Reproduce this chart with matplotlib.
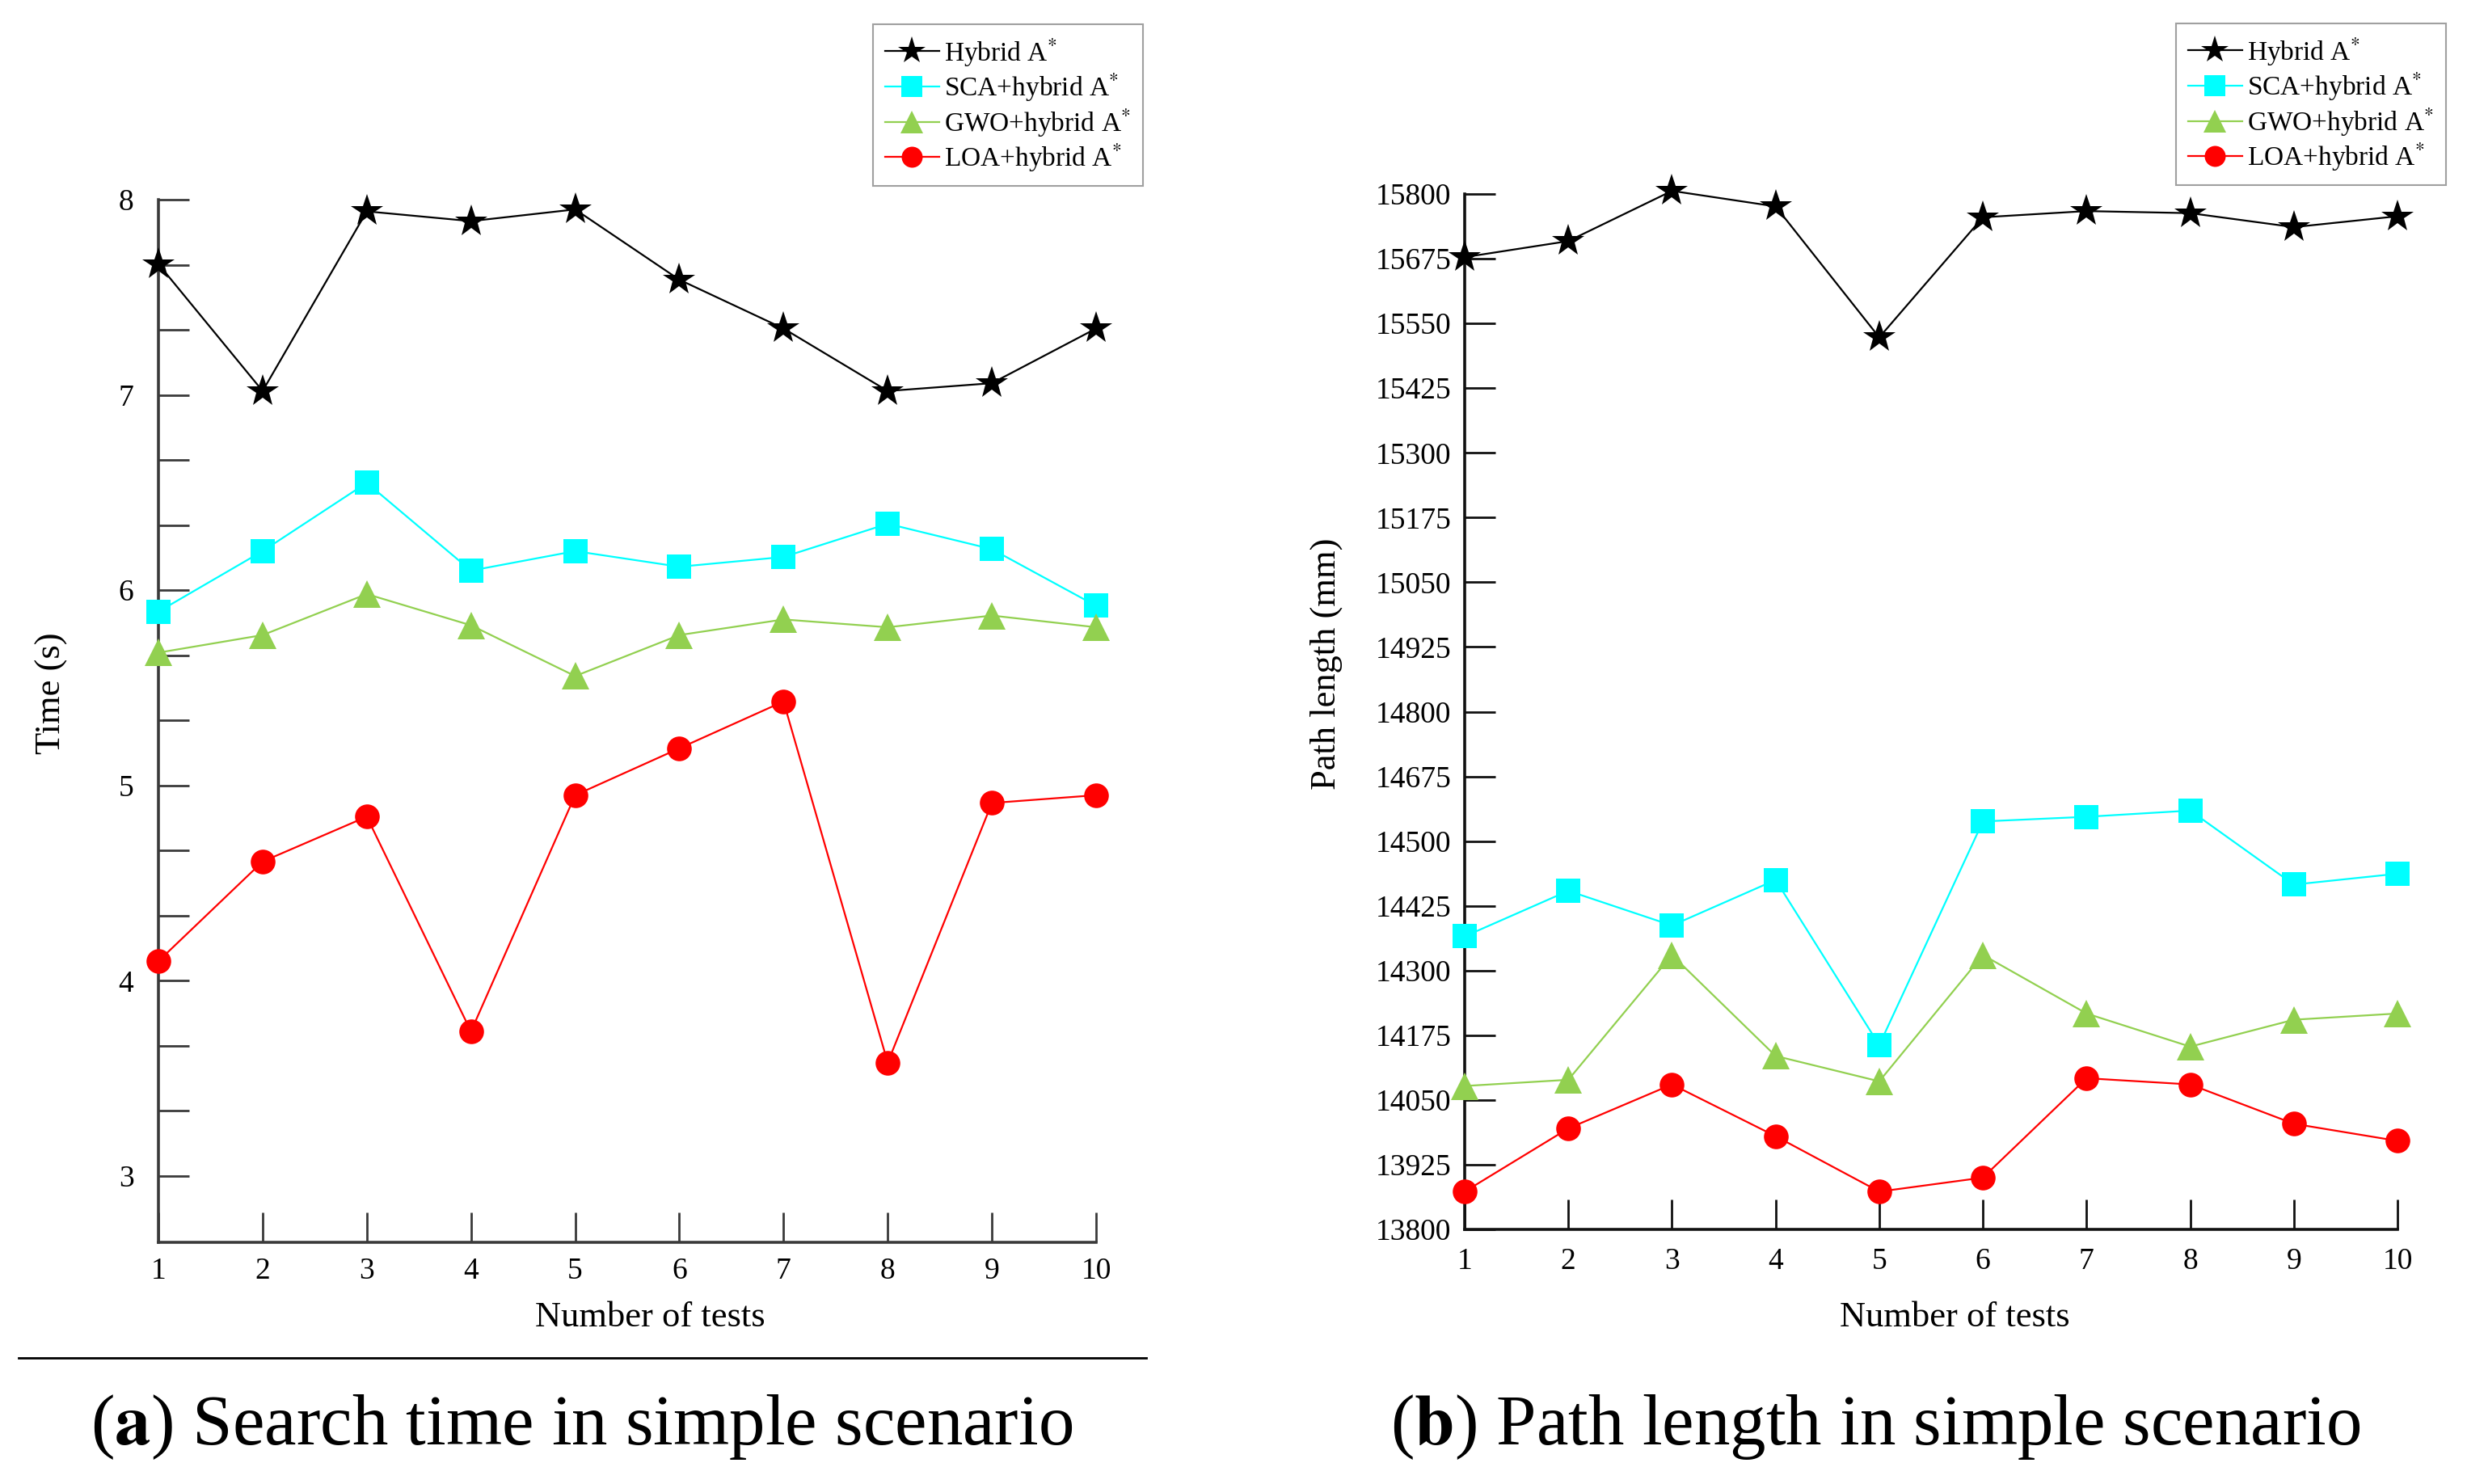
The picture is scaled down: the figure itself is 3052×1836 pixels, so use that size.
import matplotlib.pyplot as plt
from matplotlib.lines import Line2D
from matplotlib.ticker import FixedLocator, FixedFormatter

plt.rcParams['font.family'] = ['Liberation Serif', 'DejaVu Serif']
plt.rcParams['mathtext.fontset'] = 'stix'

tests = list(range(1, 11))
labels = ['Hybrid A$^{*}$', 'SCA+hybrid A$^{*}$', 'GWO+hybrid A$^{*}$', 'LOA+hybrid A$^{*}$']

# (a) search time, s
time_hybrid = [7.67, 7.02, 7.94, 7.89, 7.95, 7.59, 7.34, 7.02, 7.06, 7.34]
time_sca = [5.89, 6.20, 6.55, 6.10, 6.20, 6.12, 6.17, 6.34, 6.21, 5.92]
time_gwo = [5.68, 5.77, 5.98, 5.82, 5.56, 5.77, 5.85, 5.81, 5.87, 5.81]
time_loa = [4.10, 4.61, 4.84, 3.74, 4.95, 5.19, 5.43, 3.58, 4.91, 4.95]

# (b) path length, mm
len_hybrid = [15678, 15709, 15806, 15776, 15523, 15755, 15767, 15763, 15736, 15757]
len_sca = [14366, 14454, 14387, 14475, 14156, 14588, 14597, 14609, 14466, 14487]
len_gwo = [14077, 14089, 14330, 14135, 14086, 14330, 14217, 14153, 14205, 14217]
len_loa = [13873, 13995, 14080, 13980, 13873, 13900, 14092, 14080, 14004, 13971]

# tick labels exactly as printed in the figure
len_ticks = [13800 + 125 * k for k in range(17)]
len_tick_labels = ['13800', '13925', '14050', '14175', '14300', '14425', '14500',
                   '14675', '14800', '14925', '15050', '15175', '15300', '15425',
                   '15550', '15675', '15800']
time_major = [3, 4, 5, 6, 7, 8]
time_minor = [t + d for t in range(3, 8) for d in (1 / 3, 2 / 3)]

colors = ['black', '#00FFFF', '#92D050', '#FF0000']
markers = ['*', 's', '^', 'o']
msizes = [30, 22, 24, 22]

W, H = 3052, 1836


def fx(px):
    return px / W


def fy(py):
    return 1 - py / H


def draw(ax, series, spine_color, xpad, ypad):
    for vals, c, m, ms, lab in zip(series, colors, markers, msizes, labels):
        ax.plot(tests, vals, color=c, marker=m, ms=ms, lw=1.6, mew=0,
                clip_on=False, zorder=3, label=lab)
    ax.spines['top'].set_visible(False)
    ax.spines['right'].set_visible(False)
    for s in ('left', 'bottom'):
        ax.spines[s].set_linewidth(2.6)
        ax.spines[s].set_color(spine_color)
    ax.set_xlim(1, 10)
    ax.set_xticks(tests)
    ax.tick_params(axis='both', which='both', direction='in', length=27,
                   width=2, color=spine_color, labelsize=27)
    ax.tick_params(axis='x', pad=xpad)
    ax.tick_params(axis='y', pad=ypad)


fig = plt.figure(figsize=(W / 100, H / 100), dpi=100)

ax1 = fig.add_axes([fx(196), fy(1537), fx(1356 - 196), (1537 - 247) / H])
draw(ax1, [time_hybrid, time_sca, time_gwo, time_loa], '#3a3a3a', 13, 22)
ax1.set_ylim(2.66, 8)
ax1.yaxis.set_major_locator(FixedLocator(time_major))
ax1.yaxis.set_minor_locator(FixedLocator(time_minor))

ax2 = fig.add_axes([fx(1812), fy(1521), fx(2966 - 1812), (1521 - 240) / H])
draw(ax2, [len_hybrid, len_sca, len_gwo, len_loa], '#111111', 16, 12)
ax2.set_ylim(13800, 15800)
ax2.yaxis.set_major_locator(FixedLocator(len_ticks))
ax2.yaxis.set_major_formatter(FixedFormatter(len_tick_labels))

for ax, anchor in ((ax1, (fx(1080), fy(30))), (ax2, (fx(2692), fy(29)))):
    leg = ax.legend(loc='upper left', bbox_to_anchor=anchor,
                    bbox_transform=fig.transFigure, borderaxespad=0,
                    fontsize=24, fancybox=False, edgecolor='#a0a0a0',
                    handlelength=2.0, handletextpad=0.2, labelspacing=0.12,
                    borderpad=0.45, markerscale=0.85, framealpha=1)
    leg.get_frame().set_linewidth(1.5)

# axis titles
fig.text(fx(64), fy(858), 'Time (s)', rotation=90, ha='center', va='center', fontsize=32)
fig.text(fx(804), fy(1630), 'Number of tests', ha='center', va='center', fontsize=32)
fig.text(fx(1641), fy(821), 'Path length (mm)', rotation=90, ha='center', va='center', fontsize=32)
fig.text(fx(2418), fy(1630), 'Number of tests', ha='center', va='center', fontsize=32)

# separator and panel captions
fig.add_artist(Line2D([fx(23), fx(1418)], [fy(1680), fy(1680)], color='black', lw=2))
fig.text(fx(720), fy(1766), r'($\mathbf{a}$) Search time in simple scenario',
         ha='center', va='center', fontsize=64)
fig.text(fx(2320), fy(1766), r'($\mathbf{b}$) Path length in simple scenario',
         ha='center', va='center', fontsize=64)

fig.savefig('out.png', dpi=100)
